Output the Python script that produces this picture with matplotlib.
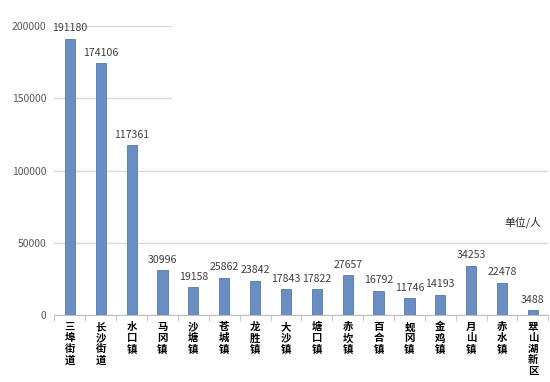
import matplotlib.pyplot as plt
from matplotlib.patches import Rectangle
import numpy as np

plt.rcParams['font.family'] = ['Noto Sans CJK SC', 'DejaVu Sans']

towns = ['三埠街道', '长沙街道', '水口镇', '马冈镇', '沙塘镇', '苍城镇', '龙胜镇', '大沙镇',
         '塘口镇', '赤坎镇', '百合镇', '蚬冈镇', '金鸡镇', '月山镇', '赤水镇', '翠山湖新区']
people = [191180, 174106, 117361, 30996, 19158, 25862, 23842, 17843,
          17822, 27657, 16792, 11746, 14193, 34253, 22478, 3488]
yticks = [0, 50000, 100000, 150000, 200000]

fig = plt.figure(figsize=(5.5, 3.82), dpi=100)
ax = fig.add_axes([0.099, 0.175, 0.898, 0.757])

x = np.arange(len(towns))
ax.bar(x, people, width=0.33, color='#6a8ec2', edgecolor='#5479ad', linewidth=0.6, zorder=3)

for xi, v in zip(x, people):
    ax.annotate(str(v), (xi, v), xytext=(0, 4), textcoords='offset points',
                ha='center', va='bottom', fontsize=7.6, color='#404040')

ax.set_xlim(-0.5, len(towns) - 0.5)
ax.set_ylim(0, 200000)
ax.set_yticks(yticks)
ax.set_yticklabels([str(t) for t in yticks], fontsize=7.5, color='#595959')
ax.yaxis.grid(True, color='#d9d9d9', linewidth=1, zorder=0)
ax.set_axisbelow(True)

# white box in the original hides part of the upper gridlines
ax.add_patch(Rectangle((0.238, 0.52), 0.762, 0.49, transform=ax.transAxes,
                       facecolor='white', edgecolor='none', zorder=1, clip_on=False))

for s in ['top', 'right', 'left']:
    ax.spines[s].set_visible(False)
ax.spines['bottom'].set_color('#bfbfbf')
ax.tick_params(axis='y', length=0, pad=6)

ax.set_xticks(np.arange(len(towns) + 1) - 0.5, minor=True)
ax.tick_params(axis='x', which='minor', length=4, color='#bfbfbf')
ax.set_xticks(x)
ax.set_xticklabels(['\n'.join(t) for t in towns], fontsize=7.5, fontweight='bold',
                   linespacing=1.12, va='top')
ax.tick_params(axis='x', which='major', length=0, pad=5)

ax.text(0.985, 0.32, '单位/人', transform=ax.transAxes, ha='right', va='center',
        fontsize=7.8, color='#222222')

fig.savefig('out.png', dpi=100)
